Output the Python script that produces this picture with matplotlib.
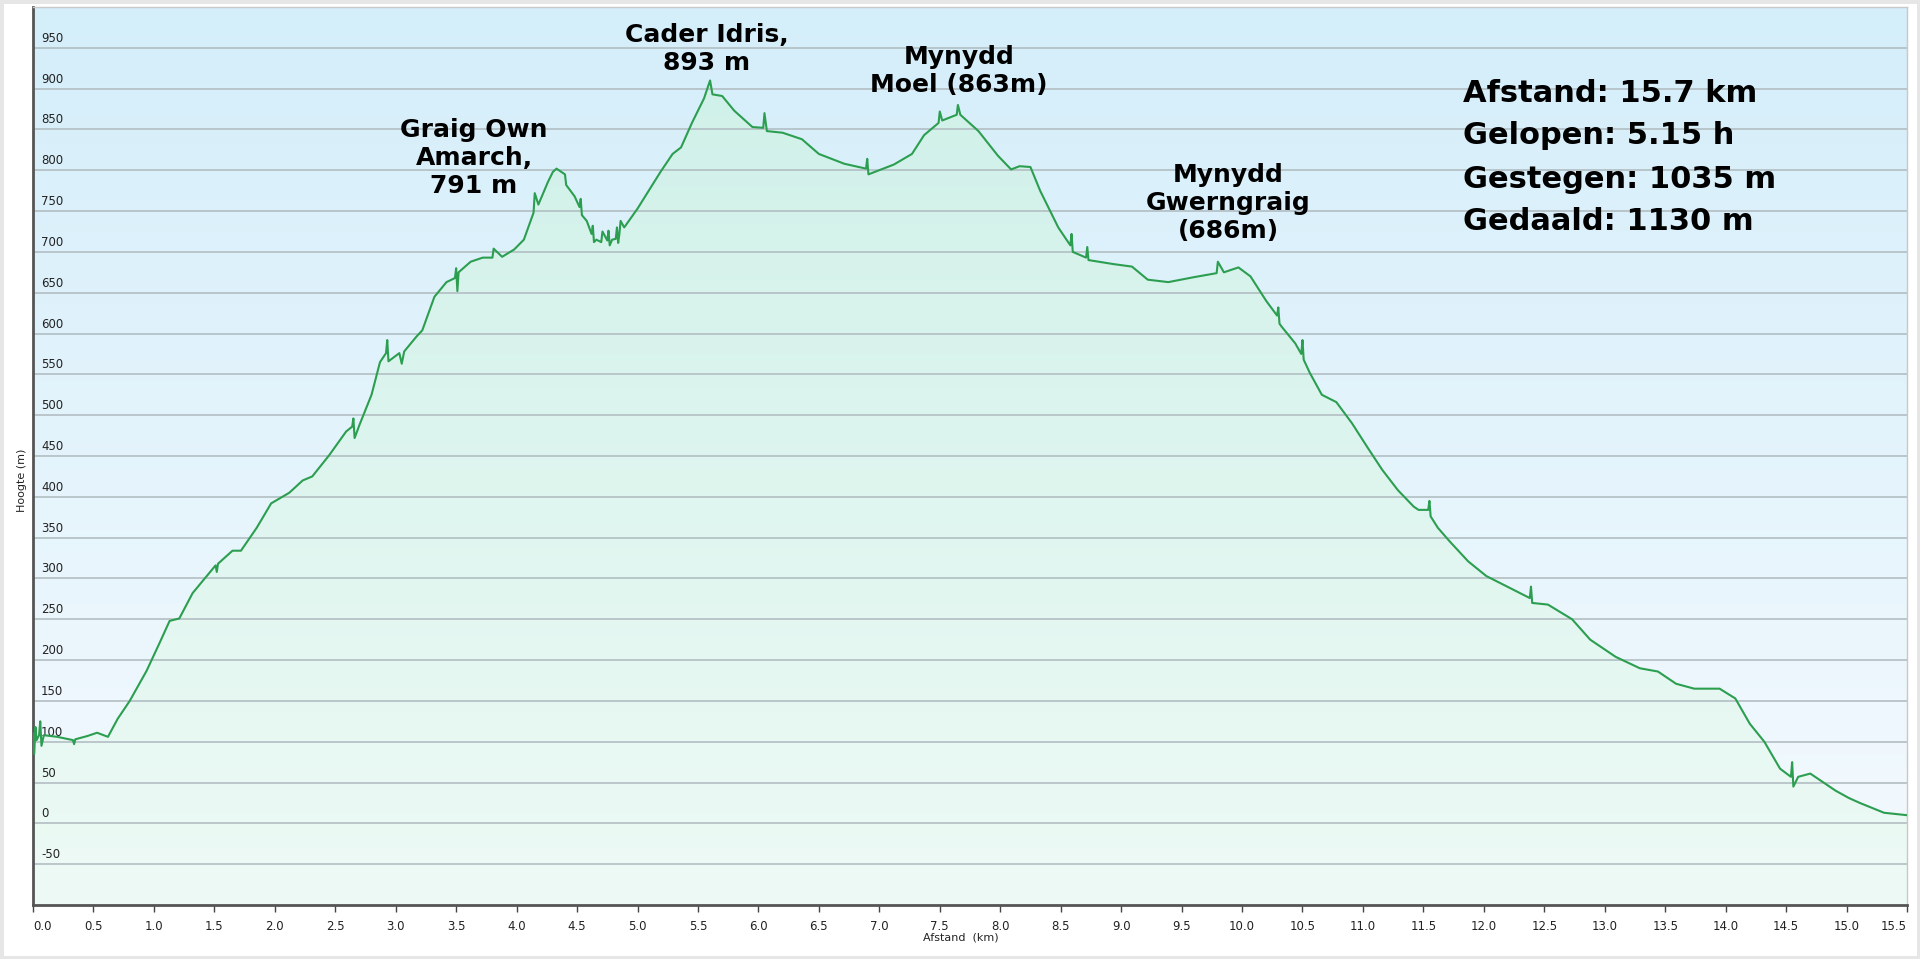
import numpy as np
import matplotlib
matplotlib.use("Agg")
import matplotlib.pyplot as plt
from matplotlib.patches import Rectangle
import matplotlib.transforms as mtransforms

# ---- data ----
profile_points = [
    (0.00,110),(0.01,85),(0.02,118),(0.03,102),(0.05,108),(0.06,125),(0.07,95),(0.09,108),
    (0.20,106),(0.33,102),(0.34,97),(0.35,103),(0.45,107),(0.53,111),(0.62,106),(0.70,128),
    (0.80,150),(0.94,187),(1.05,222),(1.13,248),(1.21,251),(1.32,282),(1.42,300),(1.51,316),
    (1.52,308),(1.53,318),(1.65,334),(1.72,334),(1.85,362),(1.97,392),(2.12,405),(2.23,420),
    (2.31,425),(2.45,451),(2.59,480),(2.64,486),(2.65,496),(2.66,472),(2.70,488),(2.80,525),
    (2.87,565),(2.92,576),(2.93,592),(2.94,566),(3.03,576),(3.05,563),(3.07,578),(3.17,596),
    (3.22,604),(3.32,645),(3.42,663),(3.49,668),(3.50,680),(3.51,652),(3.52,675),(3.62,688),
    (3.72,693),(3.80,693),(3.81,704),(3.88,694),(3.98,703),(4.06,715),(4.14,748),(4.15,772),
    (4.18,758),(4.26,786),(4.30,798),(4.33,802),(4.40,795),(4.41,782),(4.48,768),(4.52,755),
    (4.53,765),(4.54,745),(4.58,738),(4.62,722),(4.63,732),(4.64,712),(4.66,715),(4.70,712),
    (4.71,725),(4.75,714),(4.76,726),(4.77,708),(4.79,715),(4.82,716),(4.83,730),(4.84,711),
    (4.85,722),(4.86,738),(4.89,730),(5.00,753),(5.19,798),(5.29,820),(5.36,828),(5.45,858),
    (5.55,888),(5.60,910),(5.62,893),(5.70,891),(5.80,873),(5.95,853),(6.04,852),(6.05,870),
    (6.07,848),(6.20,846),(6.36,838),(6.50,820),(6.71,808),(6.89,802),(6.90,814),(6.91,795),
    (7.12,807),(7.27,820),(7.37,843),(7.49,858),(7.50,872),(7.52,861),(7.64,868),(7.65,880),
    (7.67,868),(7.82,848),(7.98,818),(8.09,801),(8.16,805),(8.25,804),(8.33,775),(8.48,730),
    (8.58,708),(8.59,722),(8.60,700),(8.71,693),(8.72,706),(8.73,690),(8.94,685),(9.09,682),
    (9.22,666),(9.39,663),(9.60,669),(9.79,674),(9.80,688),(9.85,675),(9.97,681),(10.07,670),
    (10.20,640),(10.29,622),(10.30,632),(10.31,612),(10.33,608),(10.44,588),(10.49,575),
    (10.50,592),(10.51,568),(10.56,552),(10.66,525),(10.78,516),(10.91,490),(11.04,460),
    (11.16,433),(11.29,408),(11.42,388),(11.46,384),(11.54,384),(11.55,395),(11.56,376),
    (11.62,362),(11.72,345),(11.87,321),(12.02,303),(12.18,291),(12.38,276),(12.39,290),
    (12.40,270),(12.53,268),(12.73,250),(12.88,225),(13.09,204),(13.29,190),(13.44,186),
    (13.59,171),(13.74,165),(13.95,165),(14.08,153),(14.20,122),(14.32,100),(14.45,67),
    (14.54,57),(14.55,75),(14.56,45),(14.60,57),(14.70,61),(14.91,40),(15.02,31),(15.11,25),
    (15.31,13),(15.50,10),
]
distance_km = [p[0] for p in profile_points]
elevation_m = [p[1] for p in profile_points]

y_ticks = list(range(-50, 1000, 50))
x_ticks = [i * 0.5 for i in range(32)]
x_tick_labels = [f"{v:.1f}" for v in x_ticks]

peak_labels = ["Graig Own\nAmarch,\n791 m", "Cader Idris,\n893 m",
               "Mynydd\nMoel (863m)", "Mynydd\nGwerngraig\n(686m)"]
stats_lines = ["Afstand: 15.7 km", "Gelopen: 5.15 h", "Gestegen: 1035 m", "Gedaald: 1130 m"]

# ---- figure ----
W, H = 1920, 959
fig = plt.figure(figsize=(W / 100, H / 100), dpi=100)
fig.patch.set_facecolor("white")
fig.patches.append(Rectangle((0, 0), 1, 1, transform=fig.transFigure, fill=False,
                             edgecolor="#e6e6e6", linewidth=5))

ax = fig.add_axes([33 / W, 1 - 905 / H, (1907 - 33) / W, (905 - 7) / H])
ax.set_xlim(0, 15.5)
ax.set_ylim(-100, 1000)

# background gradient (blue top -> near white bottom)
n = 256
t = np.linspace(0, 1, n)[:, None, None]
top_c = np.array([212, 238, 250]) / 255
bot_c = np.array([245, 250, 254]) / 255
bg = top_c[None, None, :] * (1 - t) + bot_c[None, None, :] * t
ax.imshow(bg, extent=[0, 15.5, -100, 1000], aspect="auto", origin="upper", zorder=0)

# green fill gradient under the curve
gtop = np.array([205, 240, 232]) / 255
gbot = np.array([238, 250, 245]) / 255
gimg = gtop[None, None, :] * (1 - t) + gbot[None, None, :] * t
poly = ax.fill_between(distance_km, elevation_m, -100, facecolor="none", edgecolor="none")
im = ax.imshow(gimg, extent=[0, 15.5, -100, 1000], aspect="auto", origin="upper", zorder=1)
im.set_clip_path(poly.get_paths()[0], transform=ax.transData)

# horizontal grid lines
for v in y_ticks:
    ax.axhline(v, color="#b2bec2", linewidth=1.2, zorder=2)

# profile line
ax.plot(distance_km, elevation_m, color="#2c9e50", linewidth=1.5, zorder=4)

# y tick labels inside the plot, above the grid lines
trans = mtransforms.blended_transform_factory(ax.transAxes, ax.transData)
offs = mtransforms.offset_copy(trans, fig=fig, x=8, y=3, units="dots")
for v in y_ticks:
    ax.text(0, v, str(v), transform=offs, ha="left", va="bottom", fontsize=8.5,
            color="#222222", zorder=3, family="DejaVu Sans")
ax.set_yticks([])

ax.set_xticks(x_ticks)
ax.set_xticklabels(x_tick_labels, fontsize=8.5, color="#222222")
ax.tick_params(axis="x", direction="out", length=5, width=1, color="#444444", pad=6)
labels = ax.get_xticklabels()
labels[0].set_horizontalalignment("left")
labels[-1].set_horizontalalignment("right")

for s in ["left", "bottom"]:
    ax.spines[s].set_color("#555555")
    ax.spines[s].set_linewidth(2)
for s in ["top", "right"]:
    ax.spines[s].set_color("#c8c8c8")
    ax.spines[s].set_linewidth(1)

fig.text(22 / W, 1 - 480 / H, "Hoogte (m)", rotation=90, ha="center", va="center",
         fontsize=8, color="#222222")
fig.text(961 / W, 1 - 938 / H, "Afstand  (km)", ha="center", va="center",
         fontsize=8, color="#222222")

# annotations
ann_font = dict(fontsize=18, fontweight="bold", color="black", family="DejaVu Sans",
                ha="center", va="center", linespacing=1.2)
fig.text(474 / W, 1 - 158 / H, peak_labels[0], **ann_font)
fig.text(707 / W, 1 - 49 / H, peak_labels[1], **ann_font)
fig.text(959 / W, 1 - 71 / H, peak_labels[2], **ann_font)
fig.text(1228 / W, 1 - 203 / H, peak_labels[3], **ann_font)

for i, line in enumerate(stats_lines):
    fig.text(1463 / W, 1 - (93 + 43 * i) / H, line, fontsize=22, fontweight="bold",
             family="DejaVu Sans", ha="left", va="center", color="black")

fig.savefig("out.png", dpi=100)
